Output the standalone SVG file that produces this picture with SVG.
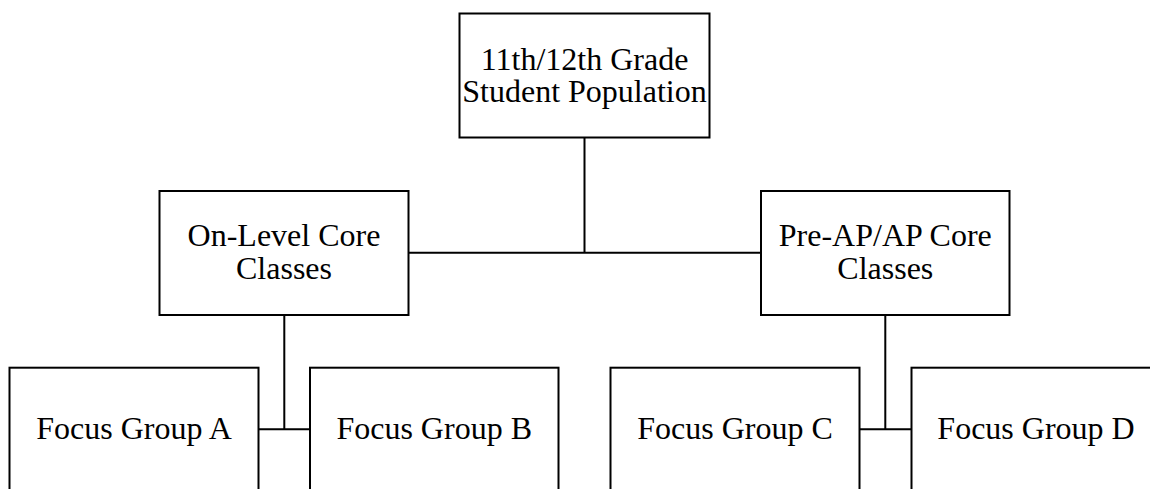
<svg xmlns="http://www.w3.org/2000/svg" width="1150" height="489" viewBox="0 0 1150 489">
<style>
.box{fill:#fff;stroke:#000;stroke-width:2}
.lbl{font-family:"Liberation Serif","Times New Roman",serif;font-size:32px;fill:#000;text-anchor:middle}
.ln{stroke:#000;stroke-width:2;fill:none}
</style>
<rect width="1150" height="489" fill="#fff"/>
<g id="connectors">
<path class="ln" d="M584.5 137.5V252.7M408.5 252.7H761"/>
<path class="ln" d="M284.3 315V429.3M258.5 429.3H310"/>
<path class="ln" d="M885.3 315V429.3M859.5 429.3H911.5"/>
</g>
<g id="node-top">
<rect class="box" x="459.5" y="13.5" width="250" height="124"/>
<text class="lbl" x="584.5" y="70">11th/12th Grade</text>
<text class="lbl" x="584.5" y="101.7">Student Population</text>
</g>
<g id="node-onlevel">
<rect class="box" x="159.5" y="191" width="249" height="124"/>
<text class="lbl" x="284" y="245.7">On-Level Core</text>
<text class="lbl" x="284" y="279">Classes</text>
</g>
<g id="node-preap">
<rect class="box" x="761" y="191" width="248.5" height="124"/>
<text class="lbl" x="885.3" y="245.7">Pre-AP/AP Core</text>
<text class="lbl" x="885.3" y="279">Classes</text>
</g>
<g id="node-a">
<rect class="box" x="9.5" y="367.7" width="249" height="124"/>
<text class="lbl" x="134" y="439">Focus Group A</text>
</g>
<g id="node-b">
<rect class="box" x="310" y="367.7" width="248.5" height="124"/>
<text class="lbl" x="434.2" y="439">Focus Group B</text>
</g>
<g id="node-c">
<rect class="box" x="610.5" y="367.7" width="249" height="124"/>
<text class="lbl" x="735" y="439">Focus Group C</text>
</g>
<g id="node-d">
<rect class="box" x="911.5" y="367.7" width="249" height="124"/>
<text class="lbl" x="1036" y="439">Focus Group D</text>
</g>
</svg>
